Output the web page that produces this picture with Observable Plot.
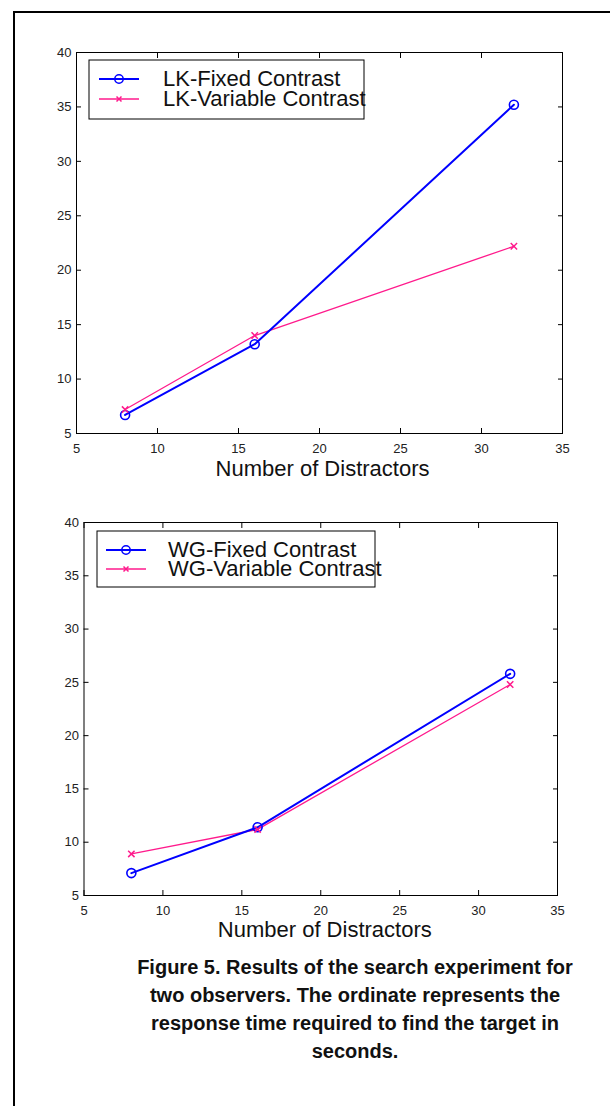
<!DOCTYPE html>
<html><head><meta charset="utf-8">
<script src="https://cdn.jsdelivr.net/npm/d3@7"></script>
<script src="https://cdn.jsdelivr.net/npm/@observablehq/plot@0.6"></script>
<style>
body{margin:0;background:#fff;}
#page{position:relative;width:610px;height:1106px;overflow:hidden;background:#fff;font-family:"Liberation Sans",Arial,Helvetica,sans-serif;}
.plot{position:absolute;left:0;}
#frameTop{position:absolute;left:13px;top:11px;width:597px;height:2px;background:#000;}
#frameLeft{position:absolute;left:13px;top:11px;width:2px;height:1095px;background:#000;}
#caption{position:absolute;left:105px;width:500px;top:953px;text-align:center;font-weight:bold;font-size:20px;line-height:28px;color:#111;white-space:nowrap;}
#overlay{position:absolute;left:0;top:0;pointer-events:none;}
</style></head>
<body><div id="page">
<div id="frameTop"></div><div id="frameLeft"></div>
<div id="caption">Figure 5. Results of the search experiment for<br>two observers. The ordinate represents the<br>response time required to find the target in<br>seconds.</div>
</div>
<script>
// ---- data ----
const distractors = [8, 16, 32];
const lkFixed = [6.7, 13.2, 35.2];
const lkVariable = [7.2, 14.0, 22.2];
const wgFixed = [7.1, 11.4, 25.8];
const wgVariable = [8.9, 11.2, 24.8];
const xTicks = [5, 10, 15, 20, 25, 30, 35];
const yTicks = [5, 10, 15, 20, 25, 30, 35, 40];
const xLabel = "Number of Distractors";
const topLegend = ["LK-Fixed Contrast", "LK-Variable Contrast"];
const bottomLegend = ["WG-Fixed Contrast", "WG-Variable Contrast"];

const BLUE = "#0000ff";
const PINK = "#ff1a8c";
const FONT = "'Liberation Sans', Arial, Helvetica, sans-serif";

function rows(vals) { return distractors.map((d, i) => ({x: d, y: vals[i]})); }

function makePlot(fixed, variable, m) {
  const f = rows(fixed), v = rows(variable);
  return Plot.plot({
    width: 610, height: 480,
    marginLeft: m.left, marginRight: m.right, marginTop: m.top, marginBottom: m.bottom,
    style: {fontFamily: FONT, fontSize: "13px", color: "#111", background: "transparent", overflow: "visible"},
    x: {domain: [5, 35], label: null},
    y: {domain: [5, 40], label: null},
    marks: [
      Plot.frame({stroke: "#000", strokeWidth: 1}),
      Plot.axisX({ticks: xTicks, anchor: "bottom", tickSize: -5, tickPadding: 15, label: null, stroke: "#000", fontSize: 13, fill: "#222"}),
      Plot.axisX({ticks: xTicks, anchor: "top", tickSize: -5, tickFormat: () => "", label: null, stroke: "#000"}),
      Plot.axisY({ticks: yTicks, anchor: "left", tickSize: -5, tickPadding: 10, label: null, stroke: "#000", fontSize: 13, fill: "#222"}),
      Plot.axisY({ticks: yTicks, anchor: "right", tickSize: -5, tickFormat: () => "", label: null, stroke: "#000"}),
      Plot.line(v, {x: "x", y: "y", stroke: PINK, strokeWidth: 1.3}),
      Plot.line(f, {x: "x", y: "y", stroke: BLUE, strokeWidth: 2}),
      Plot.dot(f, {x: "x", y: "y", r: 4.5, stroke: BLUE, strokeWidth: 1.6, fill: "none"}),
      Plot.dot(v, {x: "x", y: "y", r: 3, symbol: "times", stroke: PINK, strokeWidth: 1.5}),
      Plot.text([xLabel], {frameAnchor: "bottom", dx: m.ldx, dy: m.ldy, fontSize: 22, fill: "#111", text: d => d})
    ]
  });
}

const page = document.getElementById("page");
const p1 = makePlot(lkFixed, lkVariable, {left: 76, right: 48, top: 52, bottom: 47, ldx: 3, ldy: 42});
p1.classList.add("plot"); p1.style.top = "0px";
page.appendChild(p1);
const p2 = makePlot(wgFixed, wgVariable, {left: 83.5, right: 53, top: 42, bottom: 65, ldx: 4, ldy: 41});
p2.classList.add("plot"); p2.style.top = "480px";
page.appendChild(p2);

// ---- legends ----
const ov = d3.select(page).append("svg").attr("id", "overlay").attr("width", 610).attr("height", 1106);
function legend(labels, box) {
  const g = ov.append("g");
  g.append("rect").attr("x", box.x).attr("y", box.y).attr("width", box.w).attr("height", box.h)
    .attr("fill", "#fff").attr("stroke", "#000").attr("stroke-width", 1);
  const styles = [{c: BLUE, w: 2, sym: "circle"}, {c: PINK, w: 1.3, sym: "times"}];
  labels.forEach((lab, i) => {
    const y = box.rowY[i], s = styles[i];
    g.append("line").attr("x1", box.lx1).attr("x2", box.lx2).attr("y1", y).attr("y2", y)
      .attr("stroke", s.c).attr("stroke-width", s.w);
    const mx = (box.lx1 + box.lx2) / 2;
    if (s.sym === "circle") {
      g.append("circle").attr("cx", mx).attr("cy", y).attr("r", 4.2).attr("fill", "none").attr("stroke", s.c).attr("stroke-width", 1.5);
    } else {
      g.append("path").attr("d", `M${mx-2.5},${y-2.5}L${mx+2.5},${y+2.5}M${mx-2.5},${y+2.5}L${mx+2.5},${y-2.5}`)
        .attr("stroke", s.c).attr("stroke-width", 1.5);
    }
    g.append("text").attr("x", box.tx).attr("y", y + 7).attr("font-family", FONT).attr("font-size", 22)
      .attr("fill", "#111").text(lab);
  });
}
legend(topLegend, {x: 89, y: 60, w: 275, h: 59, rowY: [79, 99], lx1: 99, lx2: 139, tx: 163});
legend(bottomLegend, {x: 97, y: 531, w: 278, h: 56, rowY: [550, 569], lx1: 106, lx2: 146, tx: 168});
</script>
</body></html>
